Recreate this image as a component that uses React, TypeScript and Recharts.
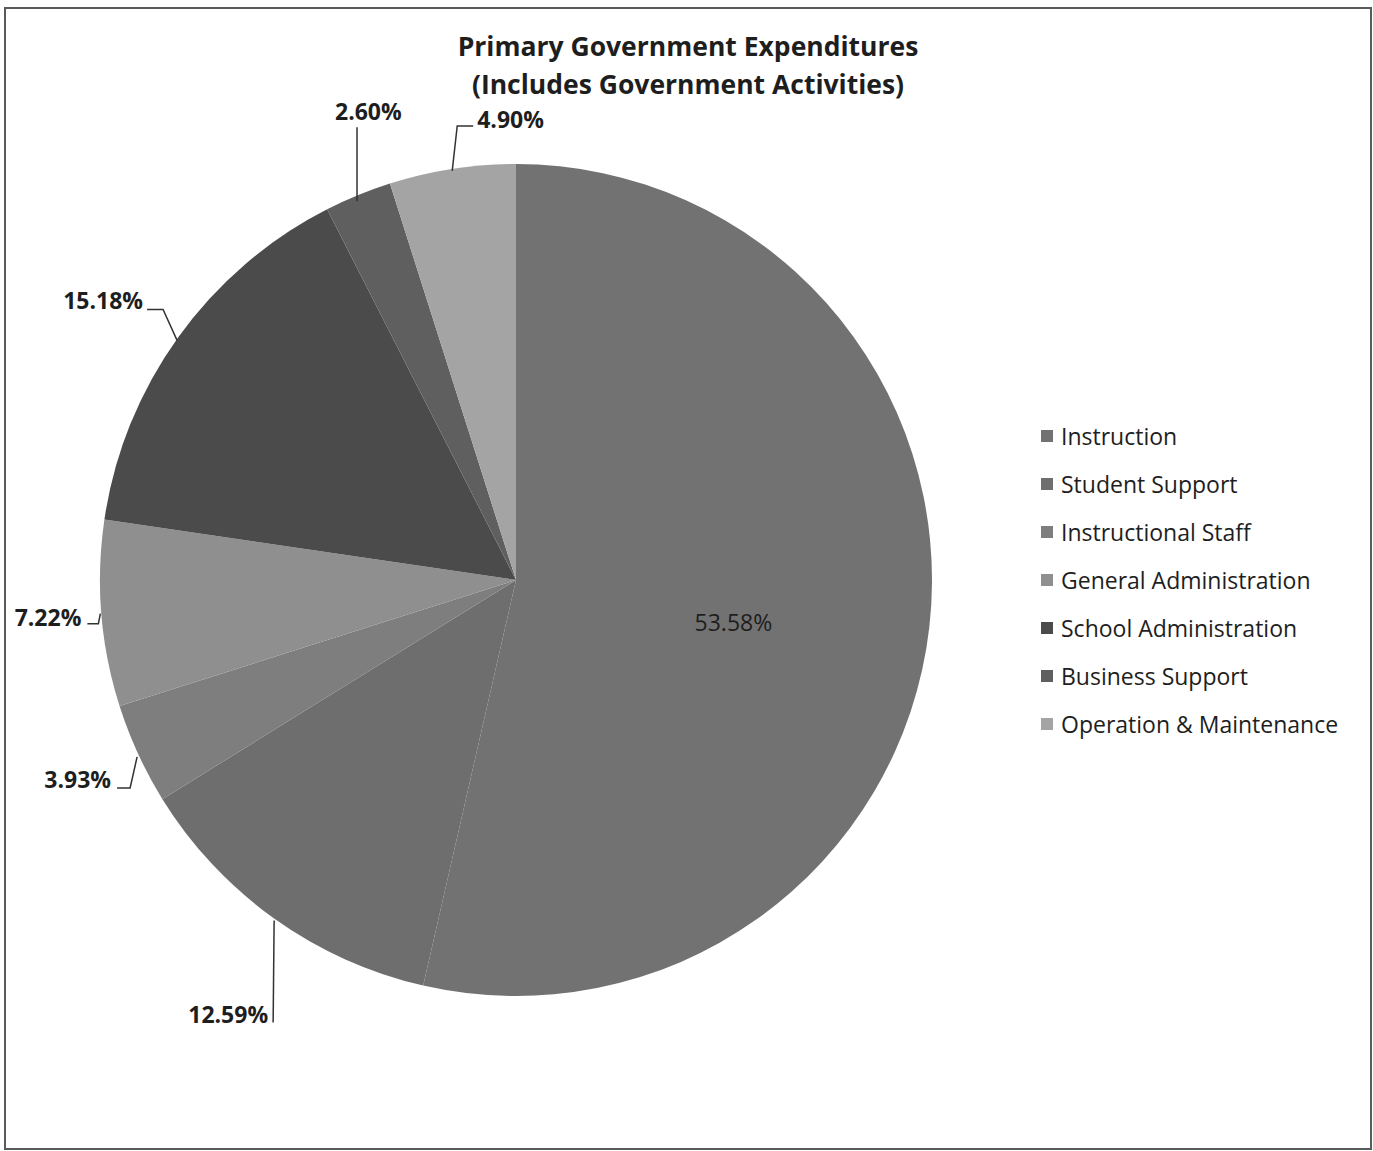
import React from 'react';
import { PieChart, Pie, Cell, Legend } from 'recharts';

const categories = [
  'Instruction',
  'Student Support',
  'Instructional Staff',
  'General Administration',
  'School Administration',
  'Business Support',
  'Operation & Maintenance',
];
const shares = [53.58, 12.59, 3.93, 7.22, 15.18, 2.6, 4.9];
const shareLabels = ['53.58%', '12.59%', '3.93%', '7.22%', '15.18%', '2.60%', '4.90%'];
const titleLines = ['Primary Government Expenditures', '(Includes Government Activities)'];

const sliceColors = ['#727272', '#6e6e6e', '#7e7e7e', '#8f8f8f', '#4b4b4b', '#5f5f5f', '#a4a4a4'];

const data = categories.map((name, i) => ({ name, value: shares[i], label: shareLabels[i] }));

// label leader geometry, relative to the slice's outer-arc midpoint
const labelLayout: { pts: number[][]; tx: number; ty: number; anchor: 'start' | 'middle' | 'end'; inside?: boolean }[] = [
  { pts: [], tx: -196, ty: 4, anchor: 'middle', inside: true },
  { pts: [[0, 2], [-1, 104]], tx: -6, ty: 105, anchor: 'end' },
  { pts: [[-1, 3], [-8, 34], [-21, 34]], tx: -27, ty: 34, anchor: 'end' },
  { pts: [[-1, 0], [-3, 10], [-14, 10]], tx: -20, ty: 12, anchor: 'end' },
  { pts: [[-1, 3], [-15, -28], [-31, -28]], tx: -35, ty: -28, anchor: 'end' },
  { pts: [[-1, 6], [-1, -68]], tx: -23, ty: -75, anchor: 'start' },
  { pts: [[0, 2], [5, -43], [21, -43]], tx: 25, ty: -41, anchor: 'start' },
];

const FONT = '"Open Sans", "Noto Sans", sans-serif';
const RADIAN = Math.PI / 180;

const renderLabel = (props: any) => {
  const { cx, cy, midAngle, outerRadius, index } = props;
  const ax = cx + outerRadius * Math.cos(-midAngle * RADIAN);
  const ay = cy + outerRadius * Math.sin(-midAngle * RADIAN);
  const lay = labelLayout[index];
  const text = shareLabels[index];
  if (lay.inside) {
    return (
      <text
        x={ax + lay.tx}
        y={ay + lay.ty}
        textAnchor="middle"
        fontFamily={FONT}
        fontSize={23}
        fill="#1e1e1e"
      >
        {text}
      </text>
    );
  }
  const points = lay.pts.map(([dx, dy]) => `${ax + dx},${ay + dy}`).join(' ');
  return (
    <g>
      <polyline points={points} fill="none" stroke="#333" strokeWidth={1.5} />
      <text
        x={ax + lay.tx}
        y={ay + lay.ty}
        textAnchor={lay.anchor}
        fontFamily={FONT}
        fontSize={23}
        fontWeight={700}
        fill="#1e1e1e"
      >
        {text}
      </text>
    </g>
  );
};

const renderLegend = () => (
  <div style={{ fontFamily: FONT }}>
    {categories.map((c, i) => (
      <div key={c} style={{ display: 'flex', alignItems: 'center', height: 48 }}>
        <span
          style={{
            display: 'inline-block',
            width: 12,
            height: 12,
            background: sliceColors[i],
            marginRight: 8,
          }}
        />
        <span style={{ fontSize: 23, color: '#1e1e1e', whiteSpace: 'nowrap' }}>{c}</span>
      </div>
    ))}
  </div>
);

export default function App() {
  return (
    <div style={{ position: 'absolute', left: 0, top: 0, width: 1373, height: 1151, background: '#fff' }}>
      <div
        style={{
          position: 'absolute',
          left: 4,
          top: 7,
          width: 1364,
          height: 1139,
          border: '2px solid #5a5a5a',
        }}
      />
      <svg
        width={1373}
        height={120}
        style={{ position: 'absolute', left: 0, top: 0 }}
      >
        {titleLines.map((t, i) => (
          <text
            key={t}
            x={688}
            y={56 + i * 38}
            textAnchor="middle"
            fontFamily={FONT}
            fontSize={26.5}
            fontWeight={700}
            fill="#1e1e1e"
          >
            {t}
          </text>
        ))}
      </svg>
      <div style={{ position: 'absolute', left: 0, top: 0 }}>
        <PieChart width={1373} height={1151} margin={{ top: 0, right: 0, bottom: 0, left: 0 }}>
          <Pie
            data={data}
            dataKey="value"
            nameKey="name"
            cx={516}
            cy={580}
            outerRadius={416}
            startAngle={90}
            endAngle={-270}
            stroke="none"
            label={renderLabel}
            labelLine={false}
            isAnimationActive={false}
          >
            {data.map((d, i) => (
              <Cell key={d.name} fill={sliceColors[i]} />
            ))}
          </Pie>
          <Legend
            content={renderLegend}
            wrapperStyle={{ position: 'absolute', left: 1041, top: 412, width: 330 }}
          />
        </PieChart>
      </div>
    </div>
  );
}
